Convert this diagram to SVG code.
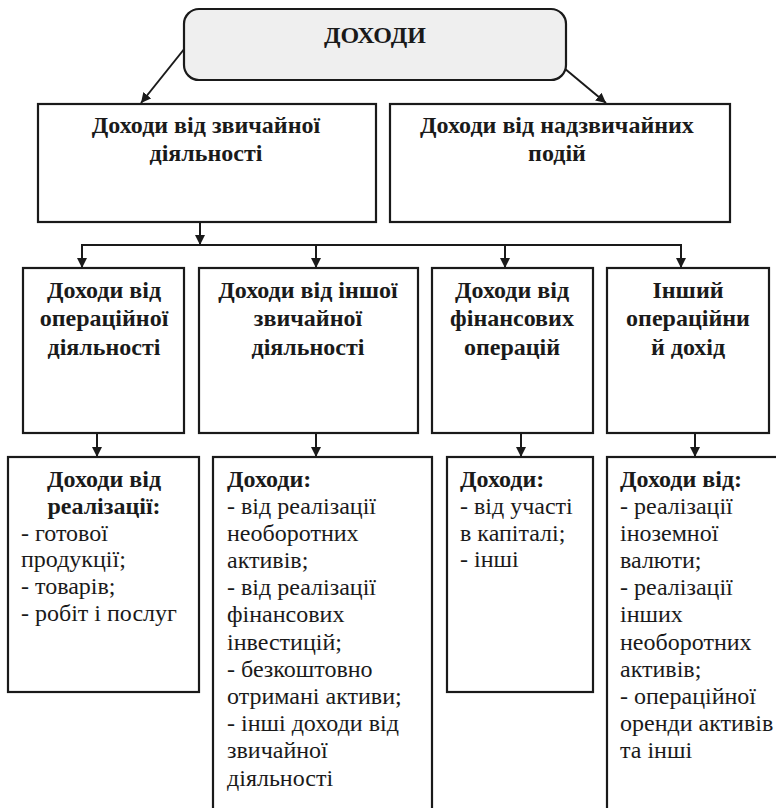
<svg xmlns="http://www.w3.org/2000/svg" width="776" height="808" viewBox="0 0 776 808">
<defs>
<marker id="ah" markerUnits="userSpaceOnUse" markerWidth="10" markerHeight="12" refX="10" refY="5" orient="auto">
<path d="M0,0 L10,5 L0,10 Z" fill="#1a1a1a"/>
</marker>
<style>
.box{fill:#fff;stroke:#1a1a1a;stroke-width:2.2}
.root{fill:#efefef;stroke:#1a1a1a;stroke-width:2.2}
.c{fill:none;stroke:#1a1a1a;stroke-width:2}
text{font-family:'Liberation Serif','Times New Roman',serif;font-size:24px;fill:#1a1a1a}
.b{font-weight:bold;text-anchor:middle}
.bl{font-weight:bold}
</style>
</defs>
<rect width="776" height="808" fill="#fff"/>
<g id="connectors">
<line class="c" x1="185" y1="48" x2="141" y2="103" marker-end="url(#ah)"/>
<line class="c" x1="564" y1="68" x2="606" y2="103" marker-end="url(#ah)"/>
<line class="c" x1="200" y1="222" x2="200" y2="245" marker-end="url(#ah)"/>
<line class="c" x1="81" y1="245" x2="682" y2="245"/>
<line class="c" x1="82" y1="245" x2="82" y2="268" marker-end="url(#ah)"/>
<line class="c" x1="316" y1="245" x2="316" y2="268" marker-end="url(#ah)"/>
<line class="c" x1="505" y1="245" x2="505" y2="268" marker-end="url(#ah)"/>
<line class="c" x1="681" y1="245" x2="681" y2="268" marker-end="url(#ah)"/>
<line class="c" x1="97" y1="433" x2="97" y2="457" marker-end="url(#ah)"/>
<line class="c" x1="316" y1="433" x2="316" y2="457" marker-end="url(#ah)"/>
<line class="c" x1="521" y1="433" x2="521" y2="457" marker-end="url(#ah)"/>
<line class="c" x1="695" y1="433" x2="695" y2="457" marker-end="url(#ah)"/>
</g>
<g id="root">
<rect class="root" x="184" y="9" width="382" height="71" rx="15"/>
<text class="b" x="375" y="43">ДОХОДИ</text>
</g>
<g id="ordinary">
<rect class="box" x="38" y="104" width="338" height="118"/>
<text class="b" x="206" y="133">Доходи від звичайної</text>
<text class="b" x="206" y="161">діяльності</text>
</g>
<g id="extraordinary">
<rect class="box" x="390" y="104" width="340" height="118"/>
<text class="b" x="557" y="133">Доходи від надзвичайних</text>
<text class="b" x="557" y="161">подій</text>
</g>
<g id="operating">
<rect class="box" x="23" y="268" width="161" height="165"/>
<text class="b" x="104" y="298">Доходи від</text>
<text class="b" x="104" y="326">операційної</text>
<text class="b" x="104" y="355">діяльності</text>
</g>
<g id="other-ordinary">
<rect class="box" x="199" y="268" width="219" height="165"/>
<text class="b" x="308" y="298">Доходи від іншої</text>
<text class="b" x="308" y="326">звичайної</text>
<text class="b" x="308" y="355">діяльності</text>
</g>
<g id="financial">
<rect class="box" x="432" y="268" width="161" height="165"/>
<text class="b" x="512" y="298">Доходи від</text>
<text class="b" x="512" y="326">фінансових</text>
<text class="b" x="512" y="355">операцій</text>
</g>
<g id="other-operating">
<rect class="box" x="607" y="268" width="162" height="165"/>
<text class="b" x="688" y="298">Інший</text>
<text class="b" x="688" y="326">операційни</text>
<text class="b" x="688" y="355">й дохід</text>
</g>
<g id="sales">
<rect class="box" x="8" y="457" width="191" height="235"/>
<text class="b" x="104" y="487">Доходи від</text>
<text class="b" x="104" y="514">реалізації:</text>
<text x="21" y="541">- готової</text>
<text x="21" y="567">продукції;</text>
<text x="21" y="594">- товарів;</text>
<text x="21" y="621">- робіт і послуг</text>
</g>
<g id="other-ordinary-items">
<rect class="box" x="213" y="457" width="219" height="360"/>
<text class="bl" x="227" y="487">Доходи:</text>
<text x="227" y="514">- від реалізації</text>
<text x="227" y="541">необоротних</text>
<text x="227" y="568">активів;</text>
<text x="227" y="595">- від реалізації</text>
<text x="227" y="622">фінансових</text>
<text x="227" y="650">інвестицій;</text>
<text x="227" y="677">- безкоштовно</text>
<text x="227" y="704">отримані активи;</text>
<text x="227" y="731">- інші доходи від</text>
<text x="227" y="758">звичайної</text>
<text x="227" y="786">діяльності</text>
</g>
<g id="financial-items">
<rect class="box" x="447" y="457" width="146" height="235"/>
<text class="bl" x="460" y="487">Доходи:</text>
<text x="460" y="514">- від участі</text>
<text x="460" y="541">в капіталі;</text>
<text x="460" y="567">- інші</text>
</g>
<g id="other-operating-items">
<rect class="box" x="607" y="457" width="200" height="360"/>
<text class="bl" x="620" y="487">Доходи від:</text>
<text x="620" y="514">- реалізації</text>
<text x="620" y="541">іноземної</text>
<text x="620" y="568">валюти;</text>
<text x="620" y="595">- реалізації</text>
<text x="620" y="622">інших</text>
<text x="620" y="650">необоротних</text>
<text x="620" y="677">активів;</text>
<text x="620" y="704">- операційної</text>
<text x="620" y="731">оренди активів</text>
<text x="620" y="758">та інші</text>
</g>
</svg>
